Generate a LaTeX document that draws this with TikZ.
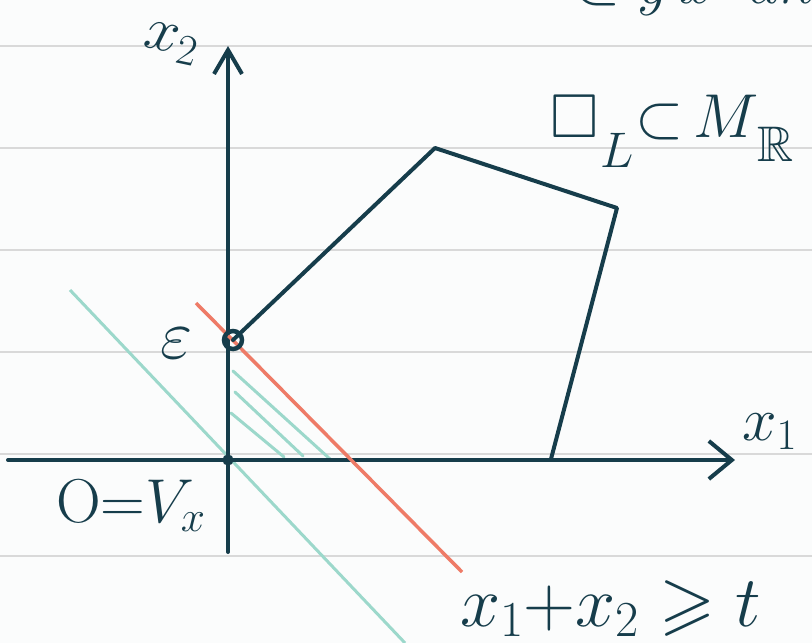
\RequirePackage{fix-cm}
\documentclass[tikz,border=0pt]{standalone}
\usepackage{amsmath,amssymb}
\usetikzlibrary{arrows.meta}
\definecolor{ink}{HTML}{163D4B}
\definecolor{rule}{HTML}{D9D9D9}
\definecolor{salmon}{HTML}{EE7B67}
\definecolor{mint}{HTML}{9CD8CB}
\definecolor{paper}{HTML}{FBFCFC}
\newcommand{\sizedmath}[2]{\hbox{\fontsize{#1}{#1}\selectfont$#2$}}
\tikzset{
  axis/.style={ink, line width=4pt, line cap=round},
  edge/.style={ink, line width=4pt, line cap=round, line join=round},
  ruleline/.style={rule, line width=1.6pt},
  lbl/.style={ink, inner sep=0pt, font=\fontsize{62}{70}\selectfont},
  biglbl/.style={ink, inner sep=0pt, font=\fontsize{72}{80}\selectfont},
  hatch/.style={mint, line width=3pt, line cap=round},
}
\begin{document}
\begin{tikzpicture}[x=1pt,y=-1pt]
\fill[paper] (0,0) rectangle (812,643);
\useasboundingbox (0,0) rectangle (812,643);
\begin{scope}
\clip (0,0) rectangle (812,643);
% ruled lines
\foreach \yy in {46,148,250,352,454,556} \draw[ruleline] (0,\yy) -- (812,\yy);
% clipped text at top
\node[lbl, anchor=base west] (top) at (572,3) {$\subset y\,x\;\; dh$};
% label running off the right edge
\node[lbl, anchor=base west] (lbox) at (550,137)
  {$\square$\kern2pt\lower30pt\sizedmath{50}{L}\kern2pt${\subset}$\kern10pt$M$\kern-2pt\lower24pt\sizedmath{50}{\mathbb{R}}};
\end{scope}
% coordinates
\coordinate (O) at (228,460);
\coordinate (E) at (233,340);
\coordinate (P1) at (435,148);
\coordinate (P2) at (617,208);
\coordinate (P3) at (551,459);
\coordinate (xs) at (8,460);
\coordinate (xe) at (735,460);
\coordinate (ys) at (228,552);
\coordinate (ye) at (228,46);
% teal line
\coordinate (t1) at (70,290);
\coordinate (t2) at (405,643);
\draw[mint, line width=3pt] (t1) -- (t2);
% hatching
\coordinate (h1a) at (233,371); \coordinate (h1b) at (330,459);
\coordinate (h2a) at (235,392); \coordinate (h2b) at (303,456);
\coordinate (h3a) at (231,413); \coordinate (h3b) at (284,457);
\draw[hatch] (h1a) -- (h1b);
\draw[hatch] (h2a) -- (h2b);
\draw[hatch] (h3a) -- (h3b);
% axes
\draw[axis, -{Straight Barb[length=23pt,width=38pt,line width=4pt]}] (xs) -- (xe);
\draw[axis, -{Straight Barb[length=24pt,width=28pt,line width=4pt]}] (ys) -- (ye);
% red line
\coordinate (r1) at (196,303);
\coordinate (r2) at (462,572);
\draw[salmon, line width=3.5pt] (r1) -- (r2);
% polygon
\draw[edge] (E) -- (P1) -- (P2) -- (P3);
% points
\draw[ink, line width=4.5pt] (E) circle (9);
\draw[ink, line width=3pt] (O) circle (4);
% labels
\node[lbl, rotate=-12, anchor=base west] (lx2) at (142,46) {$x_2$};
\node[lbl, anchor=base west] (lx1) at (742,440) {$x_1$};
\node[lbl, anchor=base west, font=\fontsize{70}{70}\selectfont] (leps) at (160,358) {$\varepsilon$};
\node[lbl, anchor=base west] (lO) at (56,522) {$\mathrm{O}{=}V_x$};
\node[biglbl, anchor=base west] (lineq) at (460,626) {$x_1{+}x_2\;{\geqslant}\; t$};
\end{tikzpicture}
\end{document}
